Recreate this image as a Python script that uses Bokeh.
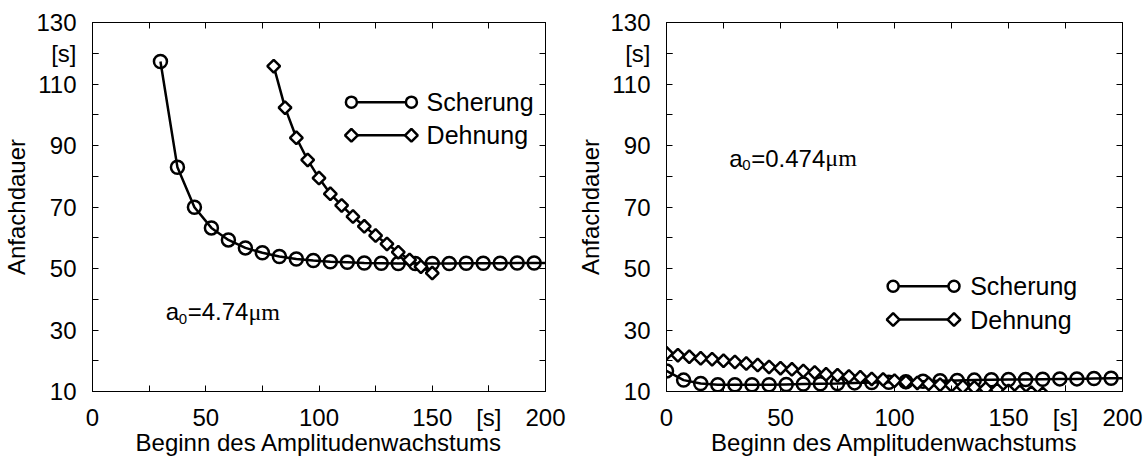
from bokeh.plotting import figure
from bokeh.models import Range1d, FixedTicker, LinearAxis, Label, ColumnDataSource
from bokeh.layouts import row
from bokeh.embed import file_html
from bokeh.resources import INLINE

# ---------------- data ----------------
# left panel  (a0 = 4.74 um)
left_scher_x = [30, 37.5, 45, 52.5, 60, 67.5, 75, 82.5, 90, 97.5, 105, 112.5, 120,
                127.5, 135, 142.5, 150, 157.5, 165, 172.5, 180, 187.5, 195]
left_scher_y = [117.3, 82.9, 69.9, 63.2, 59.3, 56.7, 55.1, 53.9, 53.1, 52.6, 52.2, 52.0,
                51.8, 51.7, 51.6, 51.6, 51.6, 51.6, 51.7, 51.7, 51.7, 51.8, 51.8]
left_scher_tail = (200, 51.8)
left_dehn_x = [80, 85, 90, 95, 100, 105, 110, 115, 120, 125, 130, 135, 140, 145, 150]
left_dehn_y = [115.8, 102.3, 92.5, 85.3, 79.4, 74.3, 70.5, 66.9, 63.7, 60.7, 58.0,
               55.3, 52.8, 50.6, 48.5]

# right panel (a0 = 0.474 um)
right_scher_x = [0, 7.5, 15, 22.5, 30, 37.5, 45, 52.5, 60, 67.5, 75, 82.5, 90, 97.5,
                 105, 112.5, 120, 127.5, 135, 142.5, 150, 157.5, 165, 172.5, 180, 187.5, 195]
right_scher_y = [16.7, 13.7, 12.6, 12.2, 12.2, 12.2, 12.2, 12.3, 12.4, 12.5, 12.6, 12.8,
                 12.9, 13.0, 13.2, 13.3, 13.5, 13.6, 13.7, 13.8, 13.9, 13.9, 14.0, 14.1,
                 14.1, 14.2, 14.3]
right_scher_tail = (200, 14.3)
right_dehn_x = [0, 5, 10, 15, 20, 25, 30, 35, 40, 45, 50, 55, 60, 65, 70, 75, 80, 85,
                90, 95, 100, 105, 110, 115, 120, 125, 130, 135, 140, 145, 150, 155, 160, 165]
right_dehn_y = [22.4, 21.8, 21.3, 20.8, 20.5, 20.0, 19.6, 19.1, 18.6, 18.0, 17.6, 17.2,
                16.7, 16.2, 15.6, 15.3, 14.9, 14.6, 14.1, 13.9, 13.5, 13.1, 12.8, 12.5,
                12.2, 12.0, 11.6, 11.3, 10.9, 10.5, 10.2, 9.9, 9.6, 9.3]

x_ticks = [0, 50, 100, 150, 200]
x_minor = [25, 75, 125, 175]
y_ticks = [10, 30, 50, 70, 90, 110, 130]
y_minor = [20, 40, 60, 80, 100, 120]
x_unit_at = 175      # position of the "[s]" unit text on the x axis
y_unit_at = 120      # position of the "[s]" unit text on the y axis
series_names = ["Scherung", "Dehnung"]
x_title = "Beginn des Amplitudenwachstums"
y_title = "Anfachdauer"
unit = "[s]"

FONT = "Liberation Sans"
SERIF = "Liberation Serif"
LW = 2.5
CIRC = 13
DIAM = 9


def style_axis(ax, ticks, minor, show_labels, standoff, unit_at=None):
    all_ticks = list(ticks) + ([unit_at] if unit_at is not None else [])
    ax.ticker = FixedTicker(ticks=all_ticks, minor_ticks=minor)
    if unit_at is not None:
        ax.major_label_overrides = {unit_at: unit}
    ax.axis_line_color = "black"
    ax.axis_line_width = 1
    ax.major_tick_in = 6
    ax.major_tick_out = 0
    ax.minor_tick_in = 6
    ax.minor_tick_out = 0
    ax.major_tick_line_color = "black"
    ax.minor_tick_line_color = "black"
    ax.major_label_text_font = FONT
    if show_labels:
        ax.major_label_text_color = "black"
        ax.major_label_text_font_size = "24px"
        ax.major_label_standoff = standoff
    else:
        ax.major_label_text_color = None
        ax.major_label_text_font_size = "1px"
        ax.major_label_standoff = 0


def text_width(s, size):
    w = {".": 0.278, "=": 0.584}
    return size * sum(w.get(c, 0.556) for c in s)


def make_panel(sx, sy, tail, dx, dy, border_left, frame_w, border_right, leg, ann):
    p = figure(frame_width=frame_w, frame_height=369,
               min_border_left=border_left, min_border_right=border_right,
               min_border_top=22, min_border_bottom=66,
               x_range=Range1d(0, 200), y_range=Range1d(10, 130),
               output_backend="svg", toolbar_location=None)
    p.grid.visible = False
    p.outline_line_color = "black"
    p.outline_line_width = 1
    p.background_fill_color = "white"
    p.border_fill_color = "white"

    xa = p.xaxis[0]
    ya = p.yaxis[0]
    style_axis(xa, x_ticks, x_minor, True, 12, x_unit_at)
    style_axis(ya, y_ticks, y_minor, True, 16, y_unit_at)
    xa.axis_label = x_title
    ya.axis_label = y_title
    for ax in (xa, ya):
        ax.axis_label_text_font = FONT
        ax.axis_label_text_font_size = "24px"
        ax.axis_label_text_font_style = "normal"
        ax.axis_label_text_color = "black"
    xa.axis_label_standoff = -5
    ya.axis_label_standoff = 3

    top = LinearAxis()
    style_axis(top, x_ticks, x_minor, False, 0)
    p.add_layout(top, "above")
    right = LinearAxis()
    style_axis(right, y_ticks, y_minor, False, 0)
    p.add_layout(right, "right")

    # Scherung
    p.line(list(sx) + [tail[0]], list(sy) + [tail[1]], line_color="black", line_width=LW)
    p.scatter(sx, sy, marker="circle", size=CIRC, fill_alpha=0,
              line_color="black", line_width=LW)
    # Dehnung
    p.line(dx, dy, line_color="black", line_width=LW)
    p.scatter(dx, dy, marker="square", angle=0.785398, size=DIAM, fill_color="white",
              line_color="black", line_width=LW)

    # legend (gnuplot style: marker at both ends of the line sample)
    lx0, lx1, ltx, ly0, ly1 = leg
    for name, yy, mk, sz, ang in ((series_names[0], ly0, "circle", CIRC - 2, 0),
                                  (series_names[1], ly1, "square", DIAM, 0.785398)):
        src = ColumnDataSource(dict(x=[lx0, lx1], y=[yy, yy]))
        p.line("x", "y", source=src, line_color="black", line_width=LW)
        p.scatter("x", "y", source=src, marker=mk, angle=ang, size=sz,
                  fill_color="white", line_color="black", line_width=LW)
        p.add_layout(Label(x=ltx, y=yy, text=name, text_font=FONT,
                           text_font_size="25px", text_baseline="middle",
                           text_align="left", text_color="black"))

    # a0 annotation
    ax0, ay0, val = ann
    eq = "=" + val
    p.add_layout(Label(x=ax0, y=ay0, text="a", text_font=FONT, text_font_size="24px",
                       text_baseline="alphabetic", text_align="left", text_color="black"))
    p.add_layout(Label(x=ax0, y=ay0, x_offset=13, y_offset=-7, text="0", text_font=FONT,
                       text_font_size="15px", text_baseline="alphabetic", text_align="left",
                       text_color="black"))
    p.add_layout(Label(x=ax0, y=ay0, x_offset=22, text=eq, text_font=FONT,
                       text_font_size="24px", text_baseline="alphabetic", text_align="left",
                       text_color="black"))
    p.add_layout(Label(x=ax0, y=ay0, x_offset=22 + text_width(eq, 24), text="\u03bcm",
                       text_font=SERIF, text_font_size="24px",
                       text_baseline="alphabetic", text_align="left", text_color="black"))
    return p


p1 = make_panel(left_scher_x, left_scher_y, left_scher_tail, left_dehn_x, left_dehn_y,
                91, 453, 26,
                (114.3, 140.8, 147.5, 104.1, 93.3),
                (32.3, 36.0, "4.74"))
p2 = make_panel(right_scher_x, right_scher_y, right_scher_tail, right_dehn_x, right_dehn_y,
                95, 456, 25,
                (99.4, 126.1, 133.2, 44.2, 33.4),
                (27.5, 85.9, "0.474"))

layout = row(p1, p2)
open("out.html", "w").write(file_html(layout, INLINE))
